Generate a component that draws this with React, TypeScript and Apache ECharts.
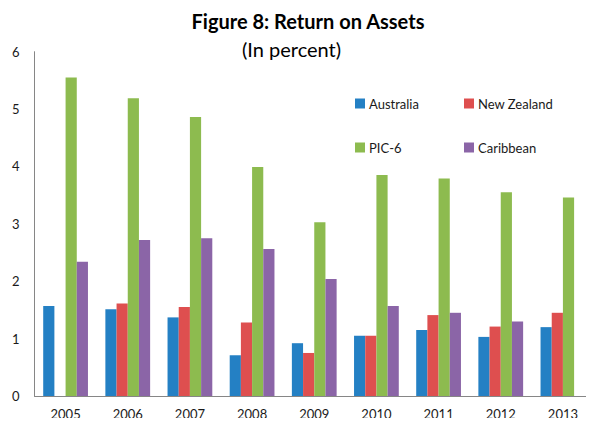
import React, { useEffect, useRef } from "react";
import * as echarts from "echarts";

const years = ["2005", "2006", "2007", "2008", "2009", "2010", "2011", "2012", "2013"];
const australia = [1.57, 1.51, 1.37, 0.71, 0.92, 1.05, 1.15, 1.03, 1.2];
const newZealand = [null, 1.61, 1.55, 1.28, 0.75, 1.05, 1.41, 1.21, 1.45];
const pic6 = [5.55, 5.19, 4.86, 3.99, 3.03, 3.85, 3.79, 3.55, 3.46];
const caribbean = [2.34, 2.72, 2.75, 2.56, 2.04, 1.57, 1.45, 1.3, null];

const FONT = "Lato, 'Noto Sans', sans-serif";
const TXT = "#1a1a1a";

export default function App() {
  const ref = useRef<HTMLDivElement>(null);
  useEffect(() => {
    if (!ref.current) return;
    const chart = echarts.init(ref.current, undefined, { renderer: "svg" });
    const mkSeries = (name: string, data: (number | null)[], color: string) => ({
      name,
      type: "bar",
      data,
      barGap: "0%",
      barCategoryGap: "28%",
      itemStyle: { color },
    });
    const legendItem = (name: string, left: number, top: number) => ({
      data: [name],
      left,
      top,
      itemWidth: 10,
      itemHeight: 10,
      itemGap: 0,
      icon: "rect",
      textStyle: { fontFamily: FONT, fontSize: 13, color: TXT, padding: [0, 0, 0, -1] },
      padding: 0,
    });
    chart.setOption({
      animation: false,
      backgroundColor: "#ffffff",
      color: ["#2480C4", "#DE4F4F", "#8DBB4F", "#8B65A7"],
      graphic: [
        {
          type: "text",
          x: 308,
          y: 21,
          style: {
            text: "Figure 8: Return on Assets",
            fontFamily: FONT,
            fontWeight: "bold",
            fontSize: 20,
            fill: "#000",
            textAlign: "center",
            textVerticalAlign: "middle",
          },
        },
        {
          type: "text",
          x: 291.5,
          y: 49,
          style: {
            text: "(In percent)",
            fontFamily: FONT,
            fontSize: 20,
            fill: "#000",
            textAlign: "center",
            textVerticalAlign: "middle",
          },
        },
      ],
      legend: [
        legendItem("Australia", 355, 97),
        legendItem("New Zealand", 464, 97),
        legendItem("PIC-6", 355, 141),
        legendItem("Caribbean", 464, 141),
      ],
      grid: { left: 34.5, right: -7.5, top: 51.7, bottom: 30, containLabel: false },
      xAxis: {
        type: "category",
        data: years,
        axisLine: { lineStyle: { color: "#868686", width: 1 } },
        axisTick: { show: false },
        axisLabel: { fontFamily: FONT, fontSize: 13, color: TXT, margin: 11 },
      },
      yAxis: {
        type: "value",
        min: 0,
        max: 6,
        interval: 1,
        axisLine: { show: true, lineStyle: { color: "#868686", width: 1 } },
        axisTick: { show: false },
        splitLine: { show: false },
        axisLabel: { fontFamily: FONT, fontSize: 13, color: TXT, margin: 15 },
      },
      series: [
        mkSeries("Australia", australia, "#2480C4"),
        mkSeries("New Zealand", newZealand, "#DE4F4F"),
        mkSeries("PIC-6", pic6, "#8DBB4F"),
        mkSeries("Caribbean", caribbean, "#8B65A7"),
      ],
    });
    return () => chart.dispose();
  }, []);
  return <div ref={ref} style={{ width: 594, height: 426, margin: -8 }} />;
}
